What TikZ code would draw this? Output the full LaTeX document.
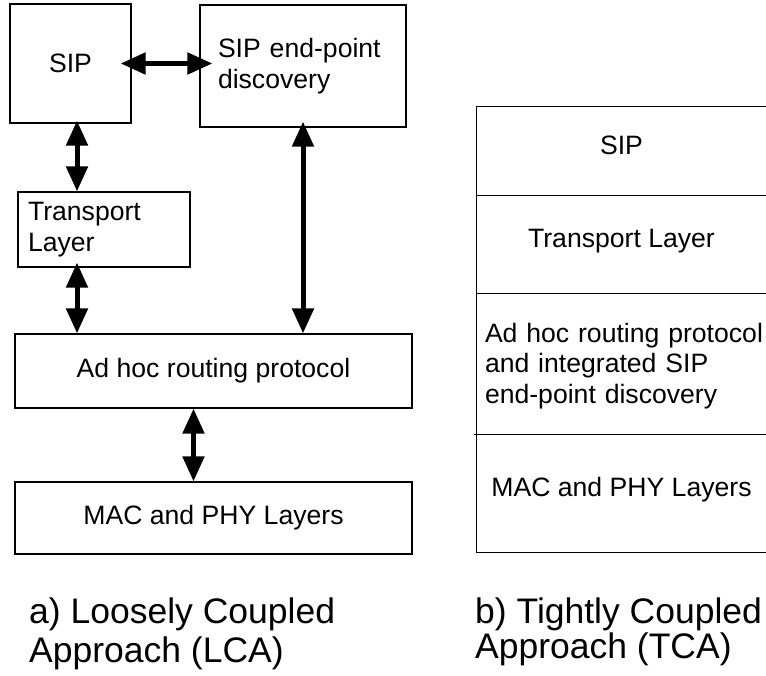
\documentclass[tikz,border=0pt]{standalone}
\usepackage{fontspec}
\setmainfont{Liberation Sans}
\usepackage{tikz}
\usetikzlibrary{arrows.meta,calc}

\begin{document}
\begin{tikzpicture}[x=1pt,y=-1pt,
  box/.style={draw,line width=1.2pt,inner sep=0pt,font=\fontsize{26.6}{30.5}\selectfont},
  lbox/.style={box,align=left},
  cell/.style={inner sep=0pt,minimum width=289pt,font=\fontsize{26.6}{30.5}\selectfont},
  onel/.style={text height=19pt,text depth=14pt},
  dbl/.style={line width=5pt,{Triangle[length=25pt,width=21pt]}-{Triangle[length=25pt,width=21pt]}},
  capt/.style={anchor=base west,align=left,inner sep=0pt}]
\useasboundingbox (0,0) rectangle (766,675);

% a) loosely coupled
\node[box,minimum width=121pt,minimum height=119pt] (sip) at (70.5,63.5) {SIP};
\node[lbox,minimum width=206pt,minimum height=122pt,text width=170pt] (sep) at (303,66) {SIP end-point\\discovery};
\node[lbox,minimum width=172pt,minimum height=75pt,text width=152pt] (trans) at (104,229.5) {Transport\\Layer};
\node[box,minimum width=397pt,minimum height=74pt] (adhoc) at (213.5,371) {Ad hoc routing protocol};
\node[box,minimum width=397pt,minimum height=72pt] (mac) at (213.5,518) {MAC and PHY Layers};
\coordinate (lx) at (77,0);

\draw[dbl,shorten <=-11pt,shorten >=-13pt] (sip.east) -- (sip.east -| sep.west);
\draw[dbl,shorten <=-3pt] (sip.south -| lx) -- (trans.north -| lx);
\draw[dbl,shorten <=-5pt] (trans.south -| lx) -- (adhoc.north -| lx);
\draw[dbl,shorten <=-6pt] (sep.south) -- (sep.south |- adhoc.north);
\draw[dbl] ([xshift=-20pt]adhoc.south) -- ([xshift=-20pt]mac.north);

\node[capt,font=\fontsize{35.5}{39}\selectfont] (capa) at (29,662) {a) Loosely Coupled\\Approach (LCA)};

% b) tightly coupled
\node[cell,onel,minimum height=89pt] (c1) at (621.5,151.5) {SIP};
\node[cell,onel,minimum height=97pt] (c2) at (621.5,244.5) {Transport Layer};
\node[cell,minimum height=142pt,text width=281pt,align=left] (c3) at (625.5,366) {Ad hoc routing protocol\\and integrated SIP\\end-point discovery};
\node[cell,onel,minimum height=117pt] (c4) at (621.5,493.5) {MAC and PHY Layers};
\draw[line width=1.2pt] (c1.north east) -- (c1.north west) -- (c4.south west) -- (c4.south east);
\draw[line width=1.2pt] (c2.north west) -- (c2.north east);
\draw[line width=1.2pt] (c2.south west) -- (c2.south east);
\draw[line width=1.2pt] ([xshift=-3pt]c4.north west) -- (c4.north east);

\node[capt,font=\fontsize{35.5}{31}\selectfont] (capb) at (475,658) {b) Tightly Coupled\\Approach (TCA)};
\end{tikzpicture}
\end{document}
